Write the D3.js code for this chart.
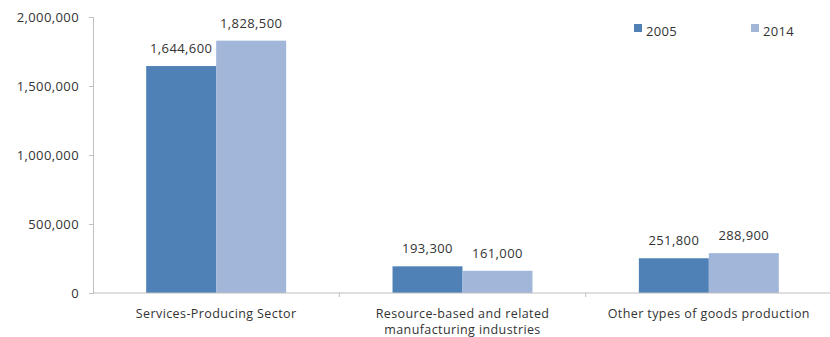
<!DOCTYPE html>
<html>
<head>
<meta charset="utf-8">
<script src="https://cdn.jsdelivr.net/npm/d3@7"></script>
<style>
  body { margin: 0; background: #fff; }
  text { font-family: "Open Sans", sans-serif; fill: #333; }
</style>
</head>
<body>
<div id="chart"></div>
<script>
const categories = [
  ["Services-Producing Sector"],
  ["Resource-based and related", "manufacturing industries"],
  ["Other types of goods production"]
];
const years = ["2005", "2014"];
const values2005 = [1644600, 193300, 251800];
const values2014 = [1828500, 161000, 288900];
const yTicks = [0, 500000, 1000000, 1500000, 2000000];
const colors = ["#4f81b7", "#a1b6d9"];

const width = 830, height = 337;
const margin = { top: 17, right: -2, bottom: 44, left: 93 };

const svg = d3.select("#chart")
  .append("svg")
  .attr("width", width)
  .attr("height", height);

const x0 = d3.scaleBand()
  .domain(d3.range(categories.length))
  .range([margin.left, width - margin.right])
  .paddingInner(0)
  .paddingOuter(0);

const x1 = d3.scaleBand()
  .domain(years)
  .range([0, x0.bandwidth()])
  .paddingInner(0)
  .paddingOuter(0.76);

const y = d3.scaleLinear()
  .domain([0, 2000000])
  .range([height - margin.bottom, margin.top]);

const fmt = d3.format(",");

// y axis
const yAxis = svg.append("g")
  .attr("transform", `translate(${margin.left},0)`)
  .call(d3.axisLeft(y).tickValues(yTicks).tickFormat(fmt).tickSize(4).tickPadding(10));
yAxis.select(".domain").attr("stroke", "#bfbfbf");
yAxis.selectAll(".tick line").attr("stroke", "#bfbfbf");
yAxis.selectAll(".tick text")
  .style("font-size", "13px")
  .attr("fill", "#333")
  .attr("letter-spacing", "0.4px");

// bars
const series = [values2005, values2014];
categories.forEach((c, i) => {
  const g = svg.append("g").attr("transform", `translate(${x0(i)},0)`);
  years.forEach((yr, j) => {
    const v = series[j][i];
    g.append("rect")
      .attr("x", x1(yr))
      .attr("y", y(v))
      .attr("width", x1.bandwidth())
      .attr("height", y(0) - y(v))
      .attr("fill", colors[j]);
    g.append("text")
      .attr("x", x1(yr) + x1.bandwidth() / 2)
      .attr("y", y(v) - 13)
      .attr("text-anchor", "middle")
      .attr("letter-spacing", "0.4px")
      .style("font-size", "13px")
      .text(fmt(v));
  });
});

// x axis
const xAxis = svg.append("g")
  .attr("transform", `translate(0,${y(0)})`);
xAxis.append("line")
  .attr("x1", margin.left).attr("x2", width)
  .attr("stroke", "#bfbfbf");
[1, 2].forEach(i => {
  xAxis.append("line")
    .attr("x1", x0(i)).attr("x2", x0(i))
    .attr("y1", 0).attr("y2", 4)
    .attr("stroke", "#bfbfbf");
});
categories.forEach((lines, i) => {
  const t = xAxis.append("text")
    .attr("text-anchor", "middle")
    .attr("y", 25)
    .style("font-size", "12.5px")
    .attr("letter-spacing", "0.4px");
  lines.forEach((l, k) => {
    t.append("tspan")
      .attr("x", x0(i) + x0.bandwidth() / 2)
      .attr("dy", k === 0 ? 0 : 15.5)
      .text(l);
  });
});

// legend
const legendX = [634, 751];
years.forEach((yr, j) => {
  svg.append("rect")
    .attr("x", legendX[j]).attr("y", 24)
    .attr("width", 8).attr("height", 8)
    .attr("fill", colors[j]);
  svg.append("text")
    .attr("x", legendX[j] + 12).attr("y", 36)
    .style("font-size", "13px")
    .attr("letter-spacing", "0.3px")
    .text(yr);
});
</script>
</body>
</html>
